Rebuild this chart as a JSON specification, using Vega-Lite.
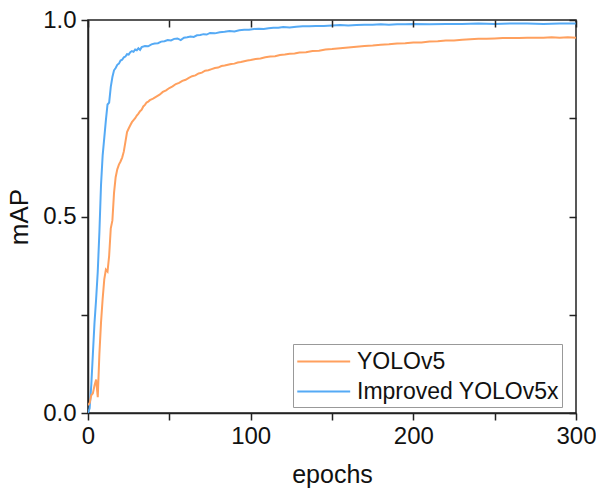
{
  "$schema": "https://vega.github.io/schema/vega-lite/v6.json",
  "width": 488,
  "height": 393,
  "autosize": "none",
  "padding": {"left": 88, "top": 20, "right": 20, "bottom": 80},
  "background": "white",
  "config": {
    "font": "Liberation Sans",
    "view": {"stroke": "#222", "strokeWidth": 1.5},
    "axis": {"grid": false, "labelFlush": false, "labelOverlap": false, "domainColor": "#222", "domainWidth": 1.5, "tickColor": "#222", "tickWidth": 1.5, "labelColor": "#111", "titleColor": "#111", "labelFont": "Liberation Sans", "titleFont": "Liberation Sans", "titleFontWeight": "normal"}
  },
  "datasets": {
    "curves": [
      {"epoch":0,"mAP":0,"model":"Improved YOLOv5x"},{"epoch":1,"mAP":0.012,"model":"Improved YOLOv5x"},{"epoch":2,"mAP":0.07,"model":"Improved YOLOv5x"},{"epoch":3,"mAP":0.15,"model":"Improved YOLOv5x"},{"epoch":4,"mAP":0.23,"model":"Improved YOLOv5x"},{"epoch":5,"mAP":0.29,"model":"Improved YOLOv5x"},{"epoch":6,"mAP":0.36,"model":"Improved YOLOv5x"},{"epoch":7,"mAP":0.46,"model":"Improved YOLOv5x"},{"epoch":8,"mAP":0.58,"model":"Improved YOLOv5x"},{"epoch":9,"mAP":0.655,"model":"Improved YOLOv5x"},{"epoch":10,"mAP":0.70,"model":"Improved YOLOv5x"},{"epoch":11,"mAP":0.745,"model":"Improved YOLOv5x"},{"epoch":12,"mAP":0.785,"model":"Improved YOLOv5x"},{"epoch":13,"mAP":0.79,"model":"Improved YOLOv5x"},{"epoch":14,"mAP":0.83,"model":"Improved YOLOv5x"},{"epoch":15,"mAP":0.855,"model":"Improved YOLOv5x"},{"epoch":16,"mAP":0.872,"model":"Improved YOLOv5x"},{"epoch":17,"mAP":0.878,"model":"Improved YOLOv5x"},{"epoch":18,"mAP":0.886,"model":"Improved YOLOv5x"},{"epoch":19,"mAP":0.889,"model":"Improved YOLOv5x"},{"epoch":20,"mAP":0.897,"model":"Improved YOLOv5x"},{"epoch":21,"mAP":0.899,"model":"Improved YOLOv5x"},{"epoch":22,"mAP":0.905,"model":"Improved YOLOv5x"},{"epoch":23,"mAP":0.907,"model":"Improved YOLOv5x"},{"epoch":24,"mAP":0.913,"model":"Improved YOLOv5x"},{"epoch":25,"mAP":0.912,"model":"Improved YOLOv5x"},{"epoch":26,"mAP":0.918,"model":"Improved YOLOv5x"},{"epoch":27,"mAP":0.921,"model":"Improved YOLOv5x"},{"epoch":28,"mAP":0.919,"model":"Improved YOLOv5x"},{"epoch":29,"mAP":0.925,"model":"Improved YOLOv5x"},{"epoch":30,"mAP":0.923,"model":"Improved YOLOv5x"},{"epoch":31,"mAP":0.928,"model":"Improved YOLOv5x"},{"epoch":32,"mAP":0.924,"model":"Improved YOLOv5x"},{"epoch":33,"mAP":0.931,"model":"Improved YOLOv5x"},{"epoch":35,"mAP":0.934,"model":"Improved YOLOv5x"},{"epoch":37,"mAP":0.933,"model":"Improved YOLOv5x"},{"epoch":39,"mAP":0.938,"model":"Improved YOLOv5x"},{"epoch":41,"mAP":0.940,"model":"Improved YOLOv5x"},{"epoch":43,"mAP":0.941,"model":"Improved YOLOv5x"},{"epoch":45,"mAP":0.945,"model":"Improved YOLOv5x"},{"epoch":47,"mAP":0.946,"model":"Improved YOLOv5x"},{"epoch":49,"mAP":0.949,"model":"Improved YOLOv5x"},{"epoch":51,"mAP":0.948,"model":"Improved YOLOv5x"},{"epoch":53,"mAP":0.952,"model":"Improved YOLOv5x"},{"epoch":55,"mAP":0.953,"model":"Improved YOLOv5x"},{"epoch":57,"mAP":0.949,"model":"Improved YOLOv5x"},{"epoch":59,"mAP":0.955,"model":"Improved YOLOv5x"},{"epoch":61,"mAP":0.956,"model":"Improved YOLOv5x"},{"epoch":63,"mAP":0.958,"model":"Improved YOLOv5x"},{"epoch":65,"mAP":0.957,"model":"Improved YOLOv5x"},{"epoch":67,"mAP":0.961,"model":"Improved YOLOv5x"},{"epoch":69,"mAP":0.962,"model":"Improved YOLOv5x"},{"epoch":71,"mAP":0.964,"model":"Improved YOLOv5x"},{"epoch":73,"mAP":0.963,"model":"Improved YOLOv5x"},{"epoch":75,"mAP":0.967,"model":"Improved YOLOv5x"},{"epoch":78,"mAP":0.966,"model":"Improved YOLOv5x"},{"epoch":81,"mAP":0.969,"model":"Improved YOLOv5x"},{"epoch":84,"mAP":0.970,"model":"Improved YOLOv5x"},{"epoch":87,"mAP":0.972,"model":"Improved YOLOv5x"},{"epoch":90,"mAP":0.971,"model":"Improved YOLOv5x"},{"epoch":93,"mAP":0.974,"model":"Improved YOLOv5x"},{"epoch":96,"mAP":0.975,"model":"Improved YOLOv5x"},{"epoch":99,"mAP":0.975,"model":"Improved YOLOv5x"},{"epoch":102,"mAP":0.977,"model":"Improved YOLOv5x"},{"epoch":105,"mAP":0.978,"model":"Improved YOLOv5x"},{"epoch":108,"mAP":0.977,"model":"Improved YOLOv5x"},{"epoch":111,"mAP":0.979,"model":"Improved YOLOv5x"},{"epoch":114,"mAP":0.980,"model":"Improved YOLOv5x"},{"epoch":117,"mAP":0.980,"model":"Improved YOLOv5x"},{"epoch":120,"mAP":0.982,"model":"Improved YOLOv5x"},{"epoch":124,"mAP":0.981,"model":"Improved YOLOv5x"},{"epoch":128,"mAP":0.983,"model":"Improved YOLOv5x"},{"epoch":132,"mAP":0.984,"model":"Improved YOLOv5x"},{"epoch":136,"mAP":0.984,"model":"Improved YOLOv5x"},{"epoch":140,"mAP":0.985,"model":"Improved YOLOv5x"},{"epoch":145,"mAP":0.985,"model":"Improved YOLOv5x"},{"epoch":150,"mAP":0.986,"model":"Improved YOLOv5x"},{"epoch":155,"mAP":0.987,"model":"Improved YOLOv5x"},{"epoch":160,"mAP":0.986,"model":"Improved YOLOv5x"},{"epoch":165,"mAP":0.987,"model":"Improved YOLOv5x"},{"epoch":170,"mAP":0.988,"model":"Improved YOLOv5x"},{"epoch":175,"mAP":0.988,"model":"Improved YOLOv5x"},{"epoch":180,"mAP":0.989,"model":"Improved YOLOv5x"},{"epoch":185,"mAP":0.988,"model":"Improved YOLOv5x"},{"epoch":190,"mAP":0.989,"model":"Improved YOLOv5x"},{"epoch":195,"mAP":0.989,"model":"Improved YOLOv5x"},{"epoch":200,"mAP":0.990,"model":"Improved YOLOv5x"},{"epoch":210,"mAP":0.989,"model":"Improved YOLOv5x"},{"epoch":220,"mAP":0.990,"model":"Improved YOLOv5x"},{"epoch":230,"mAP":0.990,"model":"Improved YOLOv5x"},{"epoch":240,"mAP":0.991,"model":"Improved YOLOv5x"},{"epoch":250,"mAP":0.990,"model":"Improved YOLOv5x"},{"epoch":260,"mAP":0.991,"model":"Improved YOLOv5x"},{"epoch":270,"mAP":0.991,"model":"Improved YOLOv5x"},{"epoch":280,"mAP":0.990,"model":"Improved YOLOv5x"},{"epoch":290,"mAP":0.991,"model":"Improved YOLOv5x"},{"epoch":300,"mAP":0.991,"model":"Improved YOLOv5x"},
      {"epoch":0,"mAP":0.02,"model":"YOLOv5"},{"epoch":1,"mAP":0.025,"model":"YOLOv5"},{"epoch":2,"mAP":0.045,"model":"YOLOv5"},{"epoch":3,"mAP":0.05,"model":"YOLOv5"},{"epoch":4,"mAP":0.07,"model":"YOLOv5"},{"epoch":5,"mAP":0.085,"model":"YOLOv5"},{"epoch":6,"mAP":0.04,"model":"YOLOv5"},{"epoch":7,"mAP":0.15,"model":"YOLOv5"},{"epoch":8,"mAP":0.23,"model":"YOLOv5"},{"epoch":9,"mAP":0.29,"model":"YOLOv5"},{"epoch":10,"mAP":0.34,"model":"YOLOv5"},{"epoch":11,"mAP":0.365,"model":"YOLOv5"},{"epoch":12,"mAP":0.36,"model":"YOLOv5"},{"epoch":13,"mAP":0.40,"model":"YOLOv5"},{"epoch":14,"mAP":0.47,"model":"YOLOv5"},{"epoch":15,"mAP":0.49,"model":"YOLOv5"},{"epoch":16,"mAP":0.56,"model":"YOLOv5"},{"epoch":17,"mAP":0.60,"model":"YOLOv5"},{"epoch":18,"mAP":0.62,"model":"YOLOv5"},{"epoch":19,"mAP":0.632,"model":"YOLOv5"},{"epoch":20,"mAP":0.64,"model":"YOLOv5"},{"epoch":21,"mAP":0.65,"model":"YOLOv5"},{"epoch":22,"mAP":0.665,"model":"YOLOv5"},{"epoch":23,"mAP":0.69,"model":"YOLOv5"},{"epoch":24,"mAP":0.715,"model":"YOLOv5"},{"epoch":25,"mAP":0.724,"model":"YOLOv5"},{"epoch":26,"mAP":0.732,"model":"YOLOv5"},{"epoch":27,"mAP":0.74,"model":"YOLOv5"},{"epoch":28,"mAP":0.745,"model":"YOLOv5"},{"epoch":29,"mAP":0.75,"model":"YOLOv5"},{"epoch":30,"mAP":0.757,"model":"YOLOv5"},{"epoch":31,"mAP":0.762,"model":"YOLOv5"},{"epoch":32,"mAP":0.768,"model":"YOLOv5"},{"epoch":33,"mAP":0.772,"model":"YOLOv5"},{"epoch":34,"mAP":0.78,"model":"YOLOv5"},{"epoch":35,"mAP":0.784,"model":"YOLOv5"},{"epoch":36,"mAP":0.79,"model":"YOLOv5"},{"epoch":37,"mAP":0.792,"model":"YOLOv5"},{"epoch":38,"mAP":0.796,"model":"YOLOv5"},{"epoch":39,"mAP":0.798,"model":"YOLOv5"},{"epoch":40,"mAP":0.80,"model":"YOLOv5"},{"epoch":42,"mAP":0.805,"model":"YOLOv5"},{"epoch":44,"mAP":0.81,"model":"YOLOv5"},{"epoch":46,"mAP":0.817,"model":"YOLOv5"},{"epoch":48,"mAP":0.821,"model":"YOLOv5"},{"epoch":50,"mAP":0.827,"model":"YOLOv5"},{"epoch":52,"mAP":0.831,"model":"YOLOv5"},{"epoch":54,"mAP":0.837,"model":"YOLOv5"},{"epoch":56,"mAP":0.84,"model":"YOLOv5"},{"epoch":58,"mAP":0.845,"model":"YOLOv5"},{"epoch":60,"mAP":0.848,"model":"YOLOv5"},{"epoch":62,"mAP":0.853,"model":"YOLOv5"},{"epoch":64,"mAP":0.857,"model":"YOLOv5"},{"epoch":66,"mAP":0.859,"model":"YOLOv5"},{"epoch":68,"mAP":0.864,"model":"YOLOv5"},{"epoch":70,"mAP":0.866,"model":"YOLOv5"},{"epoch":72,"mAP":0.871,"model":"YOLOv5"},{"epoch":74,"mAP":0.872,"model":"YOLOv5"},{"epoch":76,"mAP":0.875,"model":"YOLOv5"},{"epoch":78,"mAP":0.878,"model":"YOLOv5"},{"epoch":80,"mAP":0.879,"model":"YOLOv5"},{"epoch":82,"mAP":0.883,"model":"YOLOv5"},{"epoch":84,"mAP":0.884,"model":"YOLOv5"},{"epoch":86,"mAP":0.886,"model":"YOLOv5"},{"epoch":88,"mAP":0.888,"model":"YOLOv5"},{"epoch":90,"mAP":0.889,"model":"YOLOv5"},{"epoch":92,"mAP":0.892,"model":"YOLOv5"},{"epoch":94,"mAP":0.893,"model":"YOLOv5"},{"epoch":96,"mAP":0.895,"model":"YOLOv5"},{"epoch":98,"mAP":0.897,"model":"YOLOv5"},{"epoch":100,"mAP":0.898,"model":"YOLOv5"},{"epoch":103,"mAP":0.901,"model":"YOLOv5"},{"epoch":106,"mAP":0.902,"model":"YOLOv5"},{"epoch":109,"mAP":0.905,"model":"YOLOv5"},{"epoch":112,"mAP":0.907,"model":"YOLOv5"},{"epoch":115,"mAP":0.908,"model":"YOLOv5"},{"epoch":118,"mAP":0.911,"model":"YOLOv5"},{"epoch":121,"mAP":0.912,"model":"YOLOv5"},{"epoch":124,"mAP":0.914,"model":"YOLOv5"},{"epoch":127,"mAP":0.915,"model":"YOLOv5"},{"epoch":130,"mAP":0.917,"model":"YOLOv5"},{"epoch":134,"mAP":0.918,"model":"YOLOv5"},{"epoch":138,"mAP":0.921,"model":"YOLOv5"},{"epoch":142,"mAP":0.922,"model":"YOLOv5"},{"epoch":146,"mAP":0.925,"model":"YOLOv5"},{"epoch":150,"mAP":0.926,"model":"YOLOv5"},{"epoch":155,"mAP":0.928,"model":"YOLOv5"},{"epoch":160,"mAP":0.930,"model":"YOLOv5"},{"epoch":165,"mAP":0.932,"model":"YOLOv5"},{"epoch":170,"mAP":0.934,"model":"YOLOv5"},{"epoch":175,"mAP":0.935,"model":"YOLOv5"},{"epoch":180,"mAP":0.937,"model":"YOLOv5"},{"epoch":185,"mAP":0.938,"model":"YOLOv5"},{"epoch":190,"mAP":0.940,"model":"YOLOv5"},{"epoch":195,"mAP":0.941,"model":"YOLOv5"},{"epoch":200,"mAP":0.943,"model":"YOLOv5"},{"epoch":205,"mAP":0.943,"model":"YOLOv5"},{"epoch":210,"mAP":0.945,"model":"YOLOv5"},{"epoch":215,"mAP":0.946,"model":"YOLOv5"},{"epoch":220,"mAP":0.948,"model":"YOLOv5"},{"epoch":225,"mAP":0.948,"model":"YOLOv5"},{"epoch":230,"mAP":0.950,"model":"YOLOv5"},{"epoch":235,"mAP":0.951,"model":"YOLOv5"},{"epoch":240,"mAP":0.952,"model":"YOLOv5"},{"epoch":245,"mAP":0.952,"model":"YOLOv5"},{"epoch":250,"mAP":0.953,"model":"YOLOv5"},{"epoch":255,"mAP":0.954,"model":"YOLOv5"},{"epoch":260,"mAP":0.954,"model":"YOLOv5"},{"epoch":265,"mAP":0.954,"model":"YOLOv5"},{"epoch":270,"mAP":0.955,"model":"YOLOv5"},{"epoch":275,"mAP":0.955,"model":"YOLOv5"},{"epoch":280,"mAP":0.955,"model":"YOLOv5"},{"epoch":285,"mAP":0.956,"model":"YOLOv5"},{"epoch":290,"mAP":0.955,"model":"YOLOv5"},{"epoch":295,"mAP":0.956,"model":"YOLOv5"},{"epoch":300,"mAP":0.955,"model":"YOLOv5"}
    ]
  },
  "data": {"name": "curves"},
  "layer": [
    {
      "mark": {"type": "line", "strokeWidth": 2, "clip": true},
      "encoding": {
        "x": {"field": "epoch", "type": "quantitative", "scale": {"domain": [0, 300], "nice": false},
          "axis": {"title": "epochs", "orient": "bottom", "values": [0,50,100,150,200,250,300], "labelExpr": "datum.value % 100 == 0 ? datum.label : ''", "tickSize": 7, "labelPadding": 4, "labelFontSize": 24, "titleFontSize": 25, "titlePadding": 14}},
        "y": {"field": "mAP", "type": "quantitative", "scale": {"domain": [0, 1], "nice": false},
          "axis": {"title": "mAP", "orient": "left", "values": [0,0.25,0.5,0.75,1], "labelExpr": "datum.value * 4 % 2 == 0 ? format(datum.value, '.1f') : ''", "tickSize": 7, "labelPadding": 5, "labelFontSize": 24, "titleFontSize": 26, "titlePadding": 10}},
        "color": {"field": "model", "type": "nominal",
          "scale": {"domain": ["YOLOv5", "Improved YOLOv5x"], "range": ["#FFA05E", "#55AAF5"]},
          "legend": {"title": null, "orient": "none", "legendX": 205, "legendY": 324, "symbolType": "M-1,0L3,0", "symbolSize": 700, "symbolStrokeWidth": 2, "labelFontSize": 23, "labelLimit": 400, "labelFont": "Liberation Sans", "labelColor": "#111", "strokeColor": "#999", "fillColor": "white", "padding": 3, "rowPadding": 3, "labelOffset": 32}},
        "order": {"field": "epoch", "type": "quantitative"}
      }
    },
    {
      "mark": {"type": "line", "opacity": 0},
      "encoding": {
        "x": {"field": "epoch", "type": "quantitative", "axis": {"orient": "top", "title": null, "labels": false, "domain": false, "values": [0,50,100,150,200,250,300], "tickSize": -7, "zindex": 2}},
        "y": {"field": "mAP", "type": "quantitative", "axis": {"orient": "right", "title": null, "labels": false, "domain": false, "values": [0,0.25,0.5,0.75,1], "tickSize": -7, "zindex": 2}},
        "detail": {"field": "model"}
      }
    }
  ],
  "resolve": {"axis": {"x": "independent", "y": "independent"}}
}
